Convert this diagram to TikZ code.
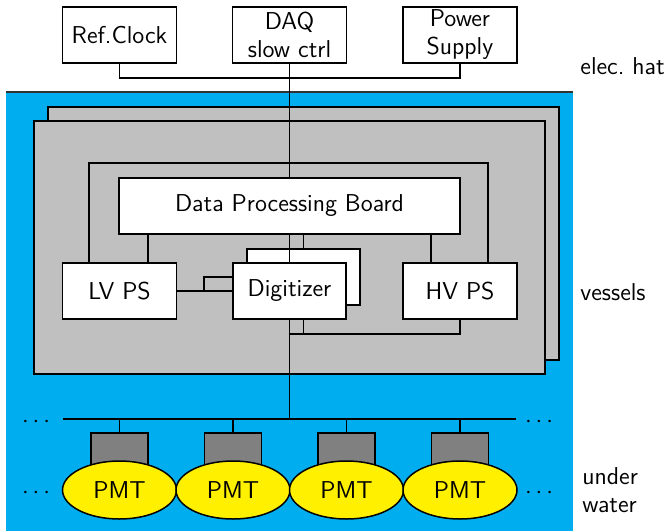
\documentclass[tikz,border=0pt]{standalone}
\usetikzlibrary{shapes.geometric}
\definecolor{water}{RGB}{0,174,239}
\definecolor{vessel}{RGB}{192,192,192}
\definecolor{basegray}{RGB}{128,128,128}
\definecolor{pmtyellow}{RGB}{255,240,0}
\definecolor{hatline}{RGB}{50,50,50}
\pgfdeclarelayer{bg}
\pgfdeclarelayer{mid}
\pgfdeclarelayer{wires}
\pgfsetlayers{bg,mid,wires,main}
\tikzset{
  every node/.style={font=\sffamily\fontsize{12.2}{14}\selectfont},
  wire/.style={line width=0.75pt},
  unitbox/.style={draw, fill=white, line width=0.75pt, inner sep=0pt,
    minimum width=57pt, minimum height=28pt, align=center},
  vesselbox/.style={draw, fill=vessel, line width=0.75pt},
  pmtbase/.style={draw, fill=basegray, line width=0.75pt, inner sep=0pt,
    minimum width=28.5pt, minimum height=21pt},
  pmt/.style={ellipse, draw, fill=pmtyellow, line width=0.75pt, inner sep=0pt,
    minimum width=57pt, minimum height=29pt},
  sidelabel/.style={anchor=base west, inner sep=0pt, align=left},
  dotlabel/.style={inner sep=0pt}
}
\begin{document}
\begin{tikzpicture}[x=0.5pt,y=-0.5pt]
\useasboundingbox (0,0) rectangle (669,531);
\begin{pgfonlayer}{bg}
% water
\fill[water] (6,92) rectangle (573,531);
\draw[line width=0.8pt, hatline] (6,92) -- (573,92);
% vessels
\draw[vesselbox] (48,107) rectangle (559,360);
\draw[vesselbox] (34,121) rectangle (545,374);
\end{pgfonlayer}
% coordinates
\coordinate (hatc) at (289.5,78);
\coordinate (busc) at (289.5,419);
\coordinate (busL) at (63,419);
\coordinate (busR) at (516,419);
\coordinate (lpL) at (89,163);
\coordinate (lpR) at (488,163);
\coordinate (dlv) at (148,0);
\coordinate (dhv) at (431,0);
\coordinate (brx) at (204,0);
\coordinate (bl) at (289.5,334);
% electronic hat boxes
\node[unitbox] (ref) at (119.5,35) {Ref.Clock};
\node[unitbox] (daq) at (289.5,35) {DAQ\\slow ctrl};
\node[unitbox] (pwr) at (460,35) {Power\\Supply};
% vessel boxes
\node[unitbox, minimum width=170.5pt] (dpb) at (289.5,206) {Data Processing Board};
\node[unitbox] (lv) at (119.5,291) {LV PS};
\node[unitbox, minimum width=56.5pt] (dig) at (289.5,291) {Digitizer};
\node[unitbox] (hv) at (460,291) {HV PS};
\begin{pgfonlayer}{mid}
\node[unitbox, minimum width=56.5pt] (dig2) at (303.5,277) {};
\end{pgfonlayer}
% PMTs
\foreach \i/\x in {1/119.5,2/233,3/346.5,4/460}{
  \node[pmtbase] (base\i) at (\x,454) {};
  \node[pmt] (pmt\i) at (\x,490) {PMT};
}
\begin{pgfonlayer}{wires}
\draw[wire] (ref.south) |- (hatc) -| (pwr.south);
\draw[wire] (daq.south) -- (busc);
\draw[wire] (lv.north -| lpL) -- (lpL) -- (lpR) -- (hv.north -| lpR);
\draw[wire] (dpb.south -| dlv) -- (lv.north -| dlv);
\draw[wire] (dpb.south -| dhv) -- (hv.north -| dhv);
\draw[wire] (dpb.south -| dig2.north) -- (dig2.north);
\draw[wire] (lv.east) -- (dig.west);
\draw[wire] (lv.east -| brx) |- (dig2.west);
\draw[wire] (dig2.south) -- (dig2.south |- bl);
\draw[wire] (hv.south) |- (bl);
\draw[wire] (busL) -- (busR);
\foreach \i in {1,...,4}{
  \draw[wire] (base\i.north |- busc) -- (base\i.north);
}
\end{pgfonlayer}
% dots
\node[dotlabel] (dl1) at (36,422) {$\cdots$};
\node[dotlabel] (dr1) at (539,422) {$\cdots$};
\node[dotlabel] (dl2) at (36,493) {$\cdots$};
\node[dotlabel] (dr2) at (539,493) {$\cdots$};
% side labels
\node[sidelabel] (lhat) at (580,74) {elec.\ hat};
\node[sidelabel] (lves) at (580,300) {vessels};
\node[sidelabel] (lwat) at (582,512) {under\\water};
\end{tikzpicture}
\end{document}
